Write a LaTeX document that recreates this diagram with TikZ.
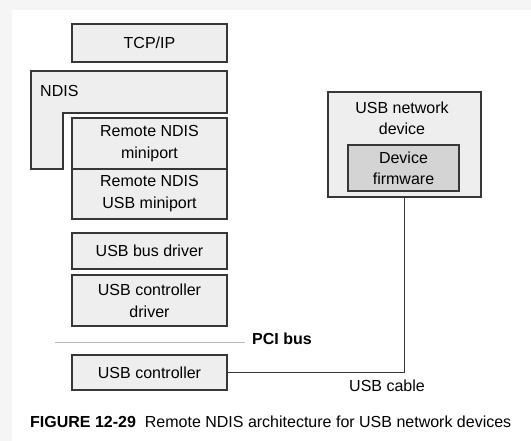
\documentclass[tikz,border=0pt]{standalone}
\usepackage{fontspec}
\setmainfont{Liberation Sans}
\usepackage{tikz}
\usetikzlibrary{positioning, calc}
\definecolor{boxline}{RGB}{55,55,55}
\definecolor{boxfill}{RGB}{238,238,238}
\definecolor{fwfill}{RGB}{212,212,212}
\definecolor{busline}{RGB}{185,185,185}
\definecolor{margin}{RGB}{245,245,245}
\tikzset{
  layer/.style={rectangle, draw=boxline, fill=boxfill, line width=1.4pt,
    minimum width=155pt, align=center, inner sep=0pt,
    font=\fontsize{16}{22}\selectfont},
  fwbox/.style={rectangle, draw=boxline, fill=fwfill, line width=1.4pt,
    align=center, inner sep=0pt, font=\fontsize{16}{21}\selectfont},
  cable/.style={line width=1.4pt, color=boxline},
  lbl/.style={font=\fontsize{16}{21}\selectfont, inner sep=0pt}
}
\begin{document}
\begin{tikzpicture}[x=1pt, y=-1pt]
  % --- Page ---
  \fill[margin] (0,0) rectangle (531,441);
  \fill[white] (12,10) rectangle (531,441);
  \useasboundingbox (0,0) rectangle (531,441);

  % --- Host stack ---
  \node[layer, minimum height=38pt] (tcp) at (149.5,43) {TCP/IP};
  \draw[line width=1.4pt, draw=boxline, fill=boxfill]
    (31,71) -- (227,71) -- (227,113) -- (63,113) -- (63,169) -- (31,169) -- cycle;
  \node[lbl, anchor=west] (ndis) at (40,91) {NDIS};
  \node[layer, minimum height=51pt] (rnm) at (149.5,143.5) {Remote NDIS\\miniport};
  \node[layer, minimum height=50pt] (rnu) at (149.5,194) {Remote NDIS\\USB miniport};
  \node[layer, minimum height=36pt] (bus) at (149.5,251) {USB bus driver};
  \node[layer, minimum height=51pt] (hcd) at (149.5,300.5) {USB controller\\driver};

  % PCI bus
  \coordinate (pcia) at (55,342);
  \node[lbl, anchor=west, font=\fontsize{16}{21}\selectfont\bfseries] (pci) at (252,339) {PCI bus};
  \draw[busline, line width=0.8pt] (pcia) -- (pcia -| 245,0);

  \node[layer, minimum height=35pt] (usbc) at (149.5,372.5) {USB controller};

  % --- Device side ---
  \node[layer, minimum width=153pt, minimum height=105pt] (dev) at (404.5,144.5) {};
  \node[lbl, align=center] (devt) at (402,118.5) {USB network\\device};
  \node[fwbox, minimum width=111pt, minimum height=46pt] (fw) at (403.5,168) {Device\\firmware};

  \draw[cable] (usbc.east) -| (dev.south);
  \node[lbl] (cab) at (387,386) {USB cable};

  % --- Caption ---
  \node[lbl, anchor=west] (cap) at (30,422)
    {\textbf{FIGURE 12-29}\ \ Remote NDIS architecture for USB network devices};
\end{tikzpicture}
\end{document}
